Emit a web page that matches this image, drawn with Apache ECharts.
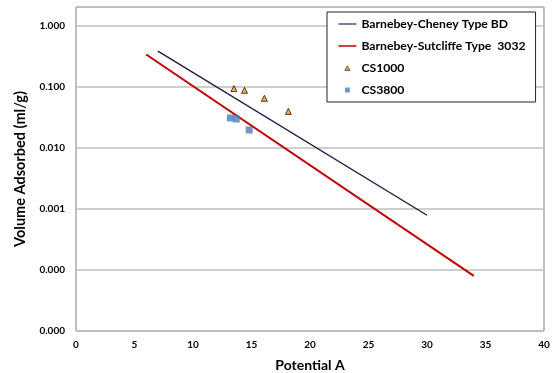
<!DOCTYPE html>
<html><head><meta charset="utf-8">
<script src="https://cdn.jsdelivr.net/npm/echarts@6/dist/echarts.min.js"></script>
<style>html,body{margin:0;padding:0;background:#fff}#c{width:555px;height:373px}</style>
</head><body><div id="c"></div>
<script>
const seriesNames = ['Barnebey-Cheney Type BD', 'Barnebey-Sutcliffe Type  3032', 'CS1000', 'CS3800'];
const cheneyX = [7, 30];
const cheneyY = [0.379, 0.000783];
const sutcliffeX = [6, 34];
const sutcliffeY = [0.334, 0.00008];
const cs1000X = [13.5, 14.4, 16.1, 18.15];
const cs1000Y = [0.0925, 0.0867, 0.0641, 0.0392];
const cs3800X = [13.2, 13.7, 14.8];
const cs3800Y = [0.0306, 0.0294, 0.0194];
const xTicks = [0, 5, 10, 15, 20, 25, 30, 35, 40];
const yTicks = [0.00001, 0.0001, 0.001, 0.01, 0.1, 1];
const xTitle = 'Potential A';
const yTitle = 'Volume Adsorbed (ml/g)';

const pairs = (xs, ys) => xs.map((x, i) => [x, ys[i]]);
const font = 'Lato, "Open Sans", sans-serif';
// legend markers inside an 18x8 icon box (corner dots fix the box)
const pad = ' M0,0L0.01,0L0.01,0.01Z M18,8L17.99,8L17.99,7.99Z';
const lineIcon = 'path://M0,3.2L18,3.2L18,4.8L0,4.8Z' + pad;
const triIcon = 'path://M9,1.8L11.6,6.4L6.4,6.4Z' + pad;
const sqIcon = 'path://M6.6,1.6L11.4,1.6L11.4,6.4L6.6,6.4Z' + pad;
const chart = echarts.init(document.getElementById('c'), null, {renderer: 'canvas'});
chart.setOption({
  animation: false,
  backgroundColor: '#fff',
  grid: {left: 76, right: 11, top: 7, bottom: 42, show: true, borderColor: '#7f7f7f', borderWidth: 1,
    backgroundColor: '#fff', outerBoundsMode: 'none', containLabel: false},
  legend: {
    orient: 'vertical', left: 327, top: 12,
    backgroundColor: '#fff', borderColor: '#222', borderWidth: 1,
    padding: [6, 10, 6, 11], itemGap: 10, itemWidth: 18, itemHeight: 8,
    symbolKeepAspect: true,
    textStyle: {fontFamily: font, fontWeight: 'bold', fontSize: 12.2, color: '#000'},
    data: [
      {name: seriesNames[0], icon: lineIcon, itemStyle: {color: '#5e4e8e', borderWidth: 0}},
      {name: seriesNames[1], icon: lineIcon, itemStyle: {color: '#c00000', borderWidth: 0}},
      {name: seriesNames[2], icon: triIcon, itemStyle: {color: '#f0922e', borderColor: '#2a1a08', borderWidth: 0.8}},
      {name: seriesNames[3], icon: sqIcon, itemStyle: {color: '#4a7ebb', borderWidth: 0}}
    ]
  },
  xAxis: {
    type: 'value', min: xTicks[0], max: xTicks[xTicks.length - 1], interval: 5,
    name: xTitle, nameLocation: 'middle', nameGap: 27,
    nameTextStyle: {fontFamily: font, fontWeight: 'bold', fontSize: 14, color: '#000'},
    axisLine: {show: false}, axisTick: {show: false}, splitLine: {show: false},
    axisLabel: {fontFamily: font, fontWeight: 'bold', fontSize: 10, color: '#000', margin: 9}
  },
  yAxis: {
    type: 'log', logBase: 10, min: yTicks[0], max: 2,
    name: yTitle, nameLocation: 'middle', nameGap: 48,
    nameTextStyle: {fontFamily: font, fontWeight: 'bold', fontSize: 14.5, color: '#000'},
    axisLine: {show: false}, axisTick: {show: false},
    splitLine: {show: true, lineStyle: {color: '#bfbfbf', width: 1.5}},
    axisLabel: {fontFamily: font, fontWeight: 'bold', fontSize: 10, color: '#000', margin: 11,
      showMaxLabel: false,
      formatter: v => {
        const m = yTicks.find(t => Math.abs(Math.log10(v) - Math.log10(t)) < 1e-6);
        return m !== undefined ? m.toFixed(3) : '';
      }}
  },
  series: [
    {name: seriesNames[0], type: 'line', data: pairs(cheneyX, cheneyY), showSymbol: false, symbol: 'none',
     lineStyle: {color: '#201c48', width: 1.4}, itemStyle: {color: '#5e4e8e'}, z: 3},
    {name: seriesNames[1], type: 'line', data: pairs(sutcliffeX, sutcliffeY), showSymbol: false, symbol: 'none',
     lineStyle: {color: '#c00000', width: 2}, itemStyle: {color: '#c00000'}, z: 3},
    {name: seriesNames[2], type: 'scatter', data: pairs(cs1000X, cs1000Y), symbol: 'triangle', symbolSize: 6,
     itemStyle: {color: '#f0922e', borderColor: '#2a1a08', borderWidth: 1}, z: 4},
    {name: seriesNames[3], type: 'scatter', data: pairs(cs3800X, cs3800Y), symbol: 'rect', symbolSize: 7,
     itemStyle: {color: '#4a7ebb'}, z: 4}
  ]
});
</script></body></html>
